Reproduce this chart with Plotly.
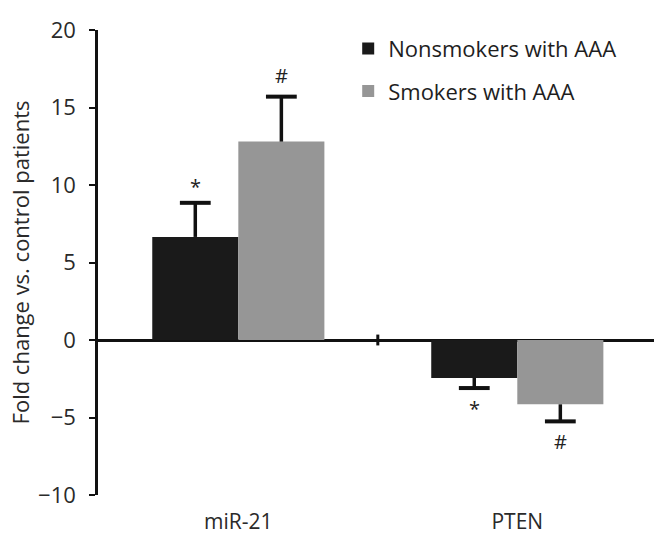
import plotly.graph_objects as go

categories = ["miR-21", "PTEN"]
nonsmokers = [6.65, -2.45]
smokers = [12.8, -4.15]
nonsmokers_err = [2.2, 0.65]
smokers_err = [2.9, 1.1]
nonsmokers_sig = ["*", "*"]
smokers_sig = ["#", "#"]
series_names = ["Nonsmokers with AAA", "Smokers with AAA"]
y_ticks = [-10, -5, 0, 5, 10, 15, 20]

def up(vals, errs):
    return [e if v >= 0 else 0 for v, e in zip(vals, errs)]

def down(vals, errs):
    return [e if v < 0 else 0 for v, e in zip(vals, errs)]

def ends(vals, errs):
    return [v + e if v >= 0 else v - e for v, e in zip(vals, errs)]

GAP = 0.383
fig = go.Figure()
series = [
    (series_names[0], nonsmokers, nonsmokers_err, "#1a1a1a", "a"),
    (series_names[1], smokers, smokers_err, "#969696", "b"),
]
for name, vals, errs, color, grp in series:
    fig.add_trace(go.Bar(
        name=name, x=categories, y=vals, marker_color=color,
        marker_line_width=0, legendgroup=grp, offsetgroup=grp,
        error_y=dict(type="data", symmetric=False, array=up(vals, errs),
                     arrayminus=down(vals, errs), color="#111111",
                     thickness=3.5, width=0),
    ))
for name, vals, errs, color, grp in series:
    fig.add_trace(go.Scatter(
        x=categories, y=ends(vals, errs), mode="markers", offsetgroup=grp,
        legendgroup=grp, showlegend=False, hoverinfo="skip",
        marker=dict(symbol="line-ew", size=22, line=dict(width=4, color="#111111")),
    ))

# significance markers
for i, cat in enumerate(categories):
    for vals, errs, sig, off in [(nonsmokers, nonsmokers_err, nonsmokers_sig, -0.155),
                                 (smokers, smokers_err, smokers_sig, 0.155)]:
        v = vals[i]
        e = errs[i]
        s = sig[i]
        if v >= 0:
            yy = v + e
            yshift = 21 if s == "#" else 16
        else:
            yy = v - e
            yshift = -20
        fig.add_annotation(x=i + off, y=yy, text=s, showarrow=False,
                           yshift=yshift, xref="x", yref="y",
                           font=dict(size=20, color="#222222", family="Open Sans"))

# category separator tick on zero line
fig.add_shape(type="line", x0=0.5, x1=0.5, y0=-0.35, y1=0.35, xref="x", yref="y",
              line=dict(color="#111111", width=3))

fig.update_layout(
    width=654, height=535,
    margin=dict(l=98, r=0, t=30, b=40),
    plot_bgcolor="white", paper_bgcolor="white",
    barmode="group", bargap=GAP, bargroupgap=0,
    scattermode="group", scattergap=GAP,
    font=dict(family="Open Sans", color="#2a2a2a"),
    showlegend=True,
    legend=dict(x=0.45, y=1.005, xanchor="left", yanchor="top",
                traceorder="grouped", tracegroupgap=11,
                font=dict(size=22, color="#1e1e1e"),
                bgcolor="rgba(0,0,0,0)", itemwidth=30),
)
fig.update_xaxes(
    type="category", range=[-0.503, 1.49], showline=False, showgrid=False,
    ticks="outside", ticklen=8, tickcolor="rgba(0,0,0,0)",
    tickfont=dict(size=21, color="#2a2a2a"), zeroline=False,
)
fig.update_yaxes(
    range=[-10, 20], tickvals=y_ticks, ticktext=["\u221210", "\u22125", "0", "5", "10", "15", "20"],
    showline=True, linecolor="#111111", linewidth=2.5,
    ticks="outside", ticklen=6, tickwidth=2, tickcolor="#111111",
    ticklabelstandoff=9,
    tickfont=dict(size=22, color="#2a2a2a"),
    showgrid=False, zeroline=True, zerolinecolor="#111111", zerolinewidth=2.5,
    title=dict(text="Fold change vs. control patients", font=dict(size=22, color="#2a2a2a"),
               standoff=3),
)

fig.write_html("out.html")
